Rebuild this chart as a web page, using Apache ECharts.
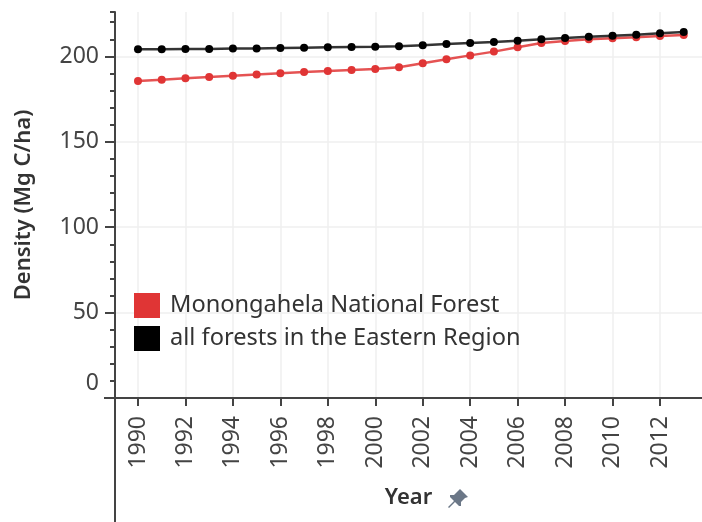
<!DOCTYPE html>
<html>
<head>
<meta charset="utf-8">
<script src="https://cdn.jsdelivr.net/npm/echarts@6/dist/echarts.min.js"></script>
<style>html,body{margin:0;padding:0;background:#fff}#c{width:702px;height:522px}</style>
</head>
<body>
<div id="c"></div>
<script>
const years = [1990,1991,1992,1993,1994,1995,1996,1997,1998,1999,2000,2001,2002,2003,2004,2005,2006,2007,2008,2009,2010,2011,2012,2013];
const monongahela = [185.6,186.4,187.2,187.9,188.7,189.4,190.1,190.8,191.4,192.0,192.6,193.6,196.0,198.3,200.6,202.8,205.3,207.8,209.0,210.0,210.6,211.2,211.9,212.5];
const easternRegion = [204.2,204.2,204.3,204.4,204.6,204.7,204.9,205.1,205.3,205.5,205.7,206.0,206.5,207.2,207.8,208.4,209.2,210.0,210.8,211.5,212.1,212.7,213.5,214.3];
const yearTicks = [1990,1992,1994,1996,1998,2000,2002,2004,2006,2008,2010,2012];
const densityTicks = [0,50,100,150,200];
const seriesNames = ['Monongahela National Forest','all forests in the Eastern Region'];

const FONT = 'Noto Sans';
const chart = echarts.init(document.getElementById('c'), null, {renderer:'canvas'});
const xMin = 1989.031, xMax = 2013.77;
const axisColor = '#444';
chart.setOption({
  animation:false,
  grid:{left:115, top:12, right:0, bottom:124, containLabel:false},
  legend:{
    orient:'vertical', left:134, top:293, padding:0, itemWidth:26, itemHeight:25, itemGap:8,
    icon:'rect', data:seriesNames,
    textStyle:{fontFamily:FONT, fontSize:23.6, color:'#333', padding:[3,0,0,5]}
  },
  xAxis:[{
    type:'value', min:xMin, max:xMax,
    name:'Year', nameLocation:'middle', nameGap:89,
    nameTextStyle:{fontFamily:FONT, fontSize:22, color:'#333', fontWeight:600},
    axisLine:{show:true, lineStyle:{color:axisColor, width:2}},
    axisTick:{show:true, length:8, customValues:yearTicks, lineStyle:{color:axisColor, width:2}},
    axisLabel:{customValues:yearTicks, rotate:90, margin:18, fontFamily:FONT, fontSize:23, color:'#444',
      formatter:function(v){return String(v);}},
    splitLine:{show:true, lineStyle:{color:'#efefef', width:1.5}}
  },{
    type:'value', position:'top', min:xMin, max:xMax,
    axisLine:{show:true, lineStyle:{color:axisColor, width:2}},
    axisTick:{show:false}, axisLabel:{show:false}, splitLine:{show:false}
  }],
  yAxis:[{
    type:'value', min:0, max:226,
    name:'Density (Mg C/ha)', nameLocation:'middle', nameGap:80,
    nameTextStyle:{fontFamily:FONT, fontSize:22, color:'#333', fontWeight:600},
    axisLine:{show:true, lineStyle:{color:axisColor, width:2}},
    axisTick:{show:true, length:10, customValues:densityTicks, lineStyle:{color:axisColor, width:2}},
    axisLabel:{customValues:densityTicks, margin:16, fontFamily:FONT, fontSize:23, color:'#444',
      formatter:function(v){return v===0 ? '{z|0}' : String(v);},
      rich:{z:{fontFamily:FONT, fontSize:23, color:'#444', padding:[0,0,30,0]}}},
    splitLine:{show:true, lineStyle:{color:'#efefef', width:1.5}}
  },{
    type:'value', min:0, max:226, interval:10, position:'left',
    axisLine:{show:false},
    axisTick:{show:true, length:5, lineStyle:{color:axisColor, width:2}},
    axisLabel:{show:false}, splitLine:{show:false}
  }],
  graphic:[
    {type:'line', shape:{x1:115, y1:398, x2:115, y2:522}, style:{stroke:axisColor, lineWidth:2}, z:10},
    {type:'line', shape:{x1:104, y1:398, x2:115, y2:398}, style:{stroke:axisColor, lineWidth:2}, z:10},
    {type:'polygon', shape:{points:[[460,489],[468,497],[465,498],[461,502],[461,506],[459,506],[455,502],[449,508],[448,507],[454,501],[450,497],[450,495],[454,495],[458,491]]},
      style:{fill:'#6b7787'}}
  ],
  series:[
    {name:seriesNames[0], type:'line', data:years.map((y,i)=>[y, monongahela[i]]),
     symbol:'circle', symbolSize:8, color:'#e03535',
     lineStyle:{width:2.5, color:'#e03535', opacity:0.85}, z:3},
    {name:seriesNames[1], type:'line', data:years.map((y,i)=>[y, easternRegion[i]]),
     symbol:'circle', symbolSize:8, color:'#000',
     lineStyle:{width:2.5, color:'#111', opacity:0.85}, z:4}
  ]
});
</script>
</body>
</html>
